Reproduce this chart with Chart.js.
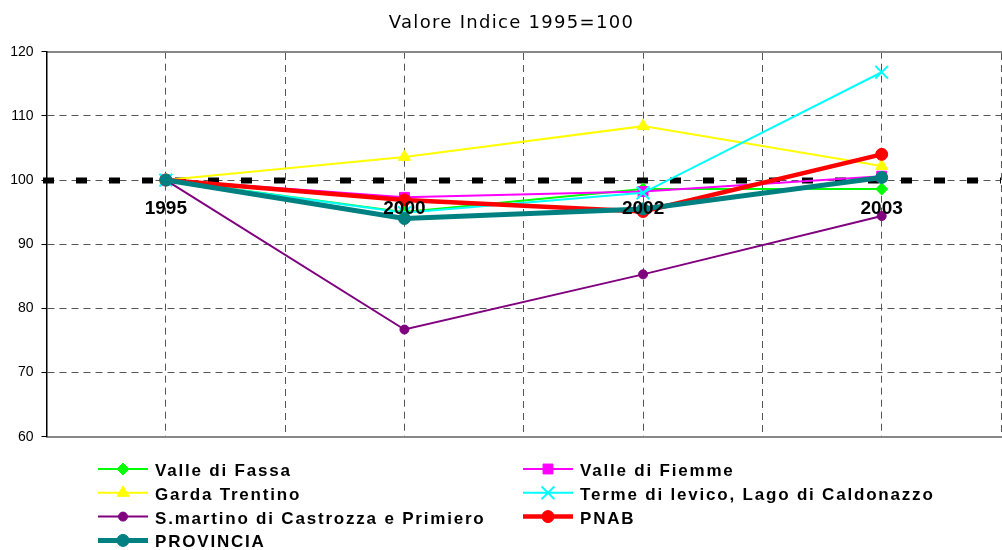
<!DOCTYPE html>
<html><head><meta charset="utf-8">
<script src="https://cdn.jsdelivr.net/npm/chart.js@4"></script>
<style>html,body{margin:0;padding:0;overflow:hidden;background:#fff}#wrap{width:1012px;height:550px;position:relative}</style>
</head><body><div id="wrap"><canvas id="c"></canvas></div>
<script>
const chartTitle = 'Valore Indice 1995=100';
const categories = ['1995', '2000', '2002', '2003'];
const valleDiFassa   = [100, 95.0, 98.6, 98.6];
const valleDiFiemme  = [100, 97.3, 98.2, 100.6];
const gardaTrentino  = [100, 103.6, 108.4, 102.2];
const termeDiLevico  = [100, 94.9, 98.0, 116.8];
const sMartino       = [100, 76.7, 85.3, 94.4];
const pnab           = [100, 96.9, 95.1, 104.0];
const provincia      = [100, 94.0, 95.5, 100.4];
const yTicks = [60, 70, 80, 90, 100, 110, 120];
const baseValue = 100;

function ds(label, data, color, style, radius, width, order, pbw) {
  return { label, data, borderColor: color, backgroundColor: color, pointBackgroundColor: color,
    pointBorderColor: color, pointStyle: style, pointRadius: radius, pointHoverRadius: radius,
    pointBorderWidth: pbw || 1, borderWidth: width, tension: 0, fill: false, order };
}

const datasets = [
  ds('Valle di Fassa', valleDiFassa, '#00ff00', 'rectRot', 6, 2, 6),
  ds('Valle di Fiemme', valleDiFiemme, '#ff00ff', 'rect', 7, 2, 5),
  ds('Garda Trentino', gardaTrentino, '#ffff00', 'triangle', 7, 2, 4),
  ds('Terme di levico, Lago di Caldonazzo', termeDiLevico, '#00ffff', 'crossRot', 9, 2, 3, 2),
  ds('S.martino di Castrozza e Primiero', sMartino, '#800080', 'circle', 4.5, 2, 2),
  ds('PNAB', pnab, '#ff0000', 'circle', 6, 4.5, 1),
  ds('PROVINCIA', provincia, '#008080', 'circle', 6, 5, 0)
];

const refLine = {
  id: 'refLine',
  beforeDatasetsDraw(chart) {
    const ctx = chart.ctx, y = chart.scales.y.getPixelForValue(baseValue);
    ctx.save();
    ctx.strokeStyle = '#000'; ctx.lineWidth = 6; ctx.setLineDash([11, 22]); ctx.lineCap = 'butt';
    ctx.beginPath(); ctx.moveTo(chart.chartArea.left - 3.5, y + 0.5); ctx.lineTo(chart.chartArea.right, y + 0.5); ctx.stroke();
    ctx.restore();
  }
};

const titleAndLegend = {
  id: 'titleAndLegend',
  afterDraw(chart) {
    const ctx = chart.ctx;
    ctx.save();
    ctx.font = '18px "DejaVu Sans"';
    try { ctx.letterSpacing = '1.3px'; } catch (e) {}
    ctx.fillStyle = '#000'; ctx.textBaseline = 'alphabetic'; ctx.textAlign = 'left';
    const tw = ctx.measureText(chartTitle).width;
    ctx.fillText(chartTitle, 511.5 - tw / 2, 28.3);
    ctx.font = 'bold 17px "Liberation Sans", Arial, sans-serif';
    try { ctx.letterSpacing = '1.8px'; } catch (e) {}
    const colX = [98, 523];
    chart.data.datasets.forEach((d, i) => {
      const col = i % 2, row = Math.floor(i / 2);
      const base = 476 + row * 23.8;
      const ly = base - 7;
      const x0 = colX[col];
      ctx.setLineDash([]);
      ctx.strokeStyle = d.borderColor; ctx.lineWidth = d.borderWidth;
      ctx.beginPath(); ctx.moveTo(x0, ly); ctx.lineTo(x0 + 50, ly); ctx.stroke();
      ctx.fillStyle = d.pointBackgroundColor; ctx.strokeStyle = d.pointBorderColor;
      ctx.lineWidth = d.pointBorderWidth;
      Chart.helpers.drawPoint(ctx, { pointStyle: d.pointStyle, radius: d.pointRadius, rotation: 0, borderWidth: d.pointBorderWidth }, x0 + 25, ly);
      ctx.fillStyle = '#000';
      ctx.fillText(d.label, x0 + 57, base);
    });
    ctx.restore();
  }
};

const gridDash = [7, 5];
new Chart(document.getElementById('c'), {
  type: 'line',
  data: { labels: categories, datasets },
  options: {
    responsive: true, maintainAspectRatio: false, animation: false,
    layout: { padding: { top: 51.7, bottom: 113.3, left: 0, right: 3 } },
    plugins: { legend: { display: false }, title: { display: false }, tooltip: { enabled: false } },
    scales: {
      x: { type: 'category', labels: categories, offset: true, position: { y: baseValue },
        grid: { display: false, drawTicks: false }, border: { display: false },
        ticks: { z: 1, color: '#000', padding: 17, maxRotation: 0, autoSkip: false,
          font: { family: 'Liberation Sans', size: 19, weight: 'bold' } } },
      xGrid: { type: 'category', axis: 'x', labels: categories, offset: true, position: 'bottom',
        grid: { offset: false, color: '#555', lineWidth: 1, drawTicks: false },
        border: { display: true, color: '#888', width: 2, dash: gridDash }, ticks: { display: false } },
      xBound: { type: 'category', axis: 'x', labels: categories, offset: true, position: 'top',
        grid: { offset: true, lineWidth: 1, drawTicks: false, color: c => c.index === 0 ? 'rgba(0,0,0,0)' : '#555' },
        border: { display: true, color: '#888', width: 2, dash: gridDash }, ticks: { display: false } },
      y: { type: 'linear', min: 60, max: 120,
        afterBuildTicks: s => { s.ticks = yTicks.map(v => ({ value: v })); },
        afterFit: s => { s.width = 46.5; },
        grid: { color: c => (c.tick && (c.tick.value === 60 || c.tick.value === 120)) ? 'rgba(0,0,0,0)' : '#555',
          lineWidth: 1, tickLength: 5, tickColor: '#000', tickWidth: 1 },
        border: { display: true, color: '#000', width: 1.5, dash: gridDash },
        ticks: { color: '#000', padding: 8, font: { family: 'Liberation Sans', size: 14 } } }
    }
  },
  plugins: [refLine, titleAndLegend]
});
</script></body></html>
